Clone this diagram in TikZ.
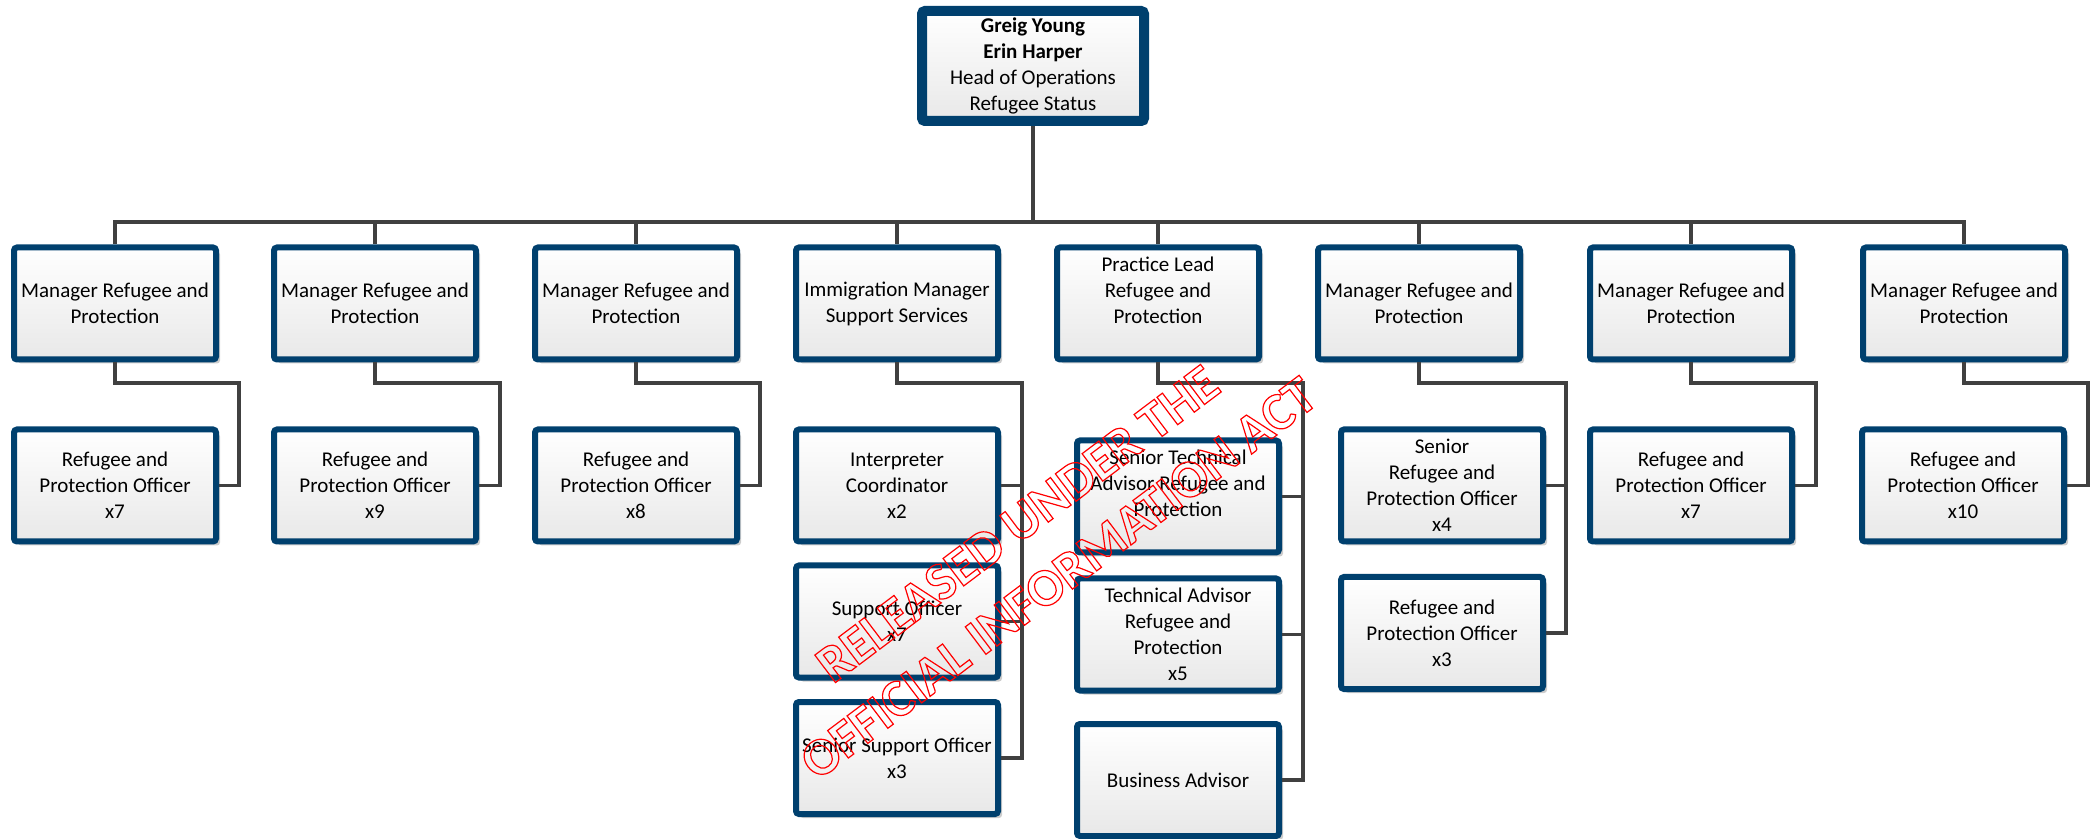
\documentclass[tikz,border=0pt]{standalone}
\usepackage{fontspec}
\setmainfont{Carlito}
\usetikzlibrary{shadows}
\definecolor{boxblue}{RGB}{0,64,110}
\definecolor{linegray}{RGB}{64,64,64}
\newcommand{\outlined}[1]{\special{pdf:literal direct 1 Tr 0.6 w}#1\special{pdf:literal direct 0 Tr}}

\begin{document}
\begin{tikzpicture} [x = 0.5pt, y = -0.5pt,
	box/.style = {draw = boxblue, line width = 3pt, rounded corners = 1.5pt,
		top color = white, bottom color = black!9,
		drop shadow = {shadow xshift = 2pt, shadow yshift = -2pt, opacity = 0.2, fill = black},
		minimum width = 101pt, minimum height = 56pt, inner sep = 0pt,
		align = center, font = \fontsize{10.5}{13}\selectfont},
	bigbox/.style = {box, line width = 5pt, minimum width = 111pt, minimum height = 55pt},
	link/.style = {draw = linegray, line width = 1.6pt},
	stamp/.style = {text = red, align = center, font = \fontsize{26.5}{34}\selectfont\bfseries}]
	\useasboundingbox (0,0) rectangle (2095,839);
	% top
	\node [bigbox] (head) at (1033,66) {\textbf{Greig Young}\\\textbf{Erin Harper}\\Head of Operations\\Refugee Status};
	% managers
	\node [box] (mgrA) at (115,303.5) {Manager Refugee and\\Protection};
	\node [box] (mgrB) at (375,303.5) {Manager Refugee and\\Protection};
	\node [box] (mgrC) at (636,303.5) {Manager Refugee and\\Protection};
	\node [box] (mgrD) at (897,303.5) {Immigration Manager\\Support Services};
	\node [box] (mgrE) at (1158,303.5) {Practice Lead\\Refugee and\\Protection\\\mbox{}};
	\node [box] (mgrF) at (1419,303.5) {Manager Refugee and\\Protection};
	\node [box] (mgrG) at (1691,303.5) {Manager Refugee and\\Protection};
	\node [box] (mgrH) at (1964,303.5) {Manager Refugee and\\Protection};
	% staff
	\node [box] (offA) at (115,485.5) {Refugee and\\Protection Officer\\x7};
	\node [box] (offB) at (375,485.5) {Refugee and\\Protection Officer\\x9};
	\node [box] (offC) at (636,485.5) {Refugee and\\Protection Officer\\x8};
	\node [box] (interp) at (897,485.5) {Interpreter\\Coordinator\\x2};
	\node [box] (support) at (897,621.5) {Support Officer\\x7};
	\node [box] (srsupport) at (897,758) {Senior Support Officer\\x3};
	\node [box] (srtech) at (1178,496.5) {Senior Technical\\Advisor Refugee and\\Protection\\\mbox{}};
	\node [box] (tech) at (1178,634.5) {Technical Advisor\\Refugee and\\Protection\\x5};
	\node [box] (business) at (1178,780) {Business Advisor};
	\node [box] (srofficer) at (1442,485.5) {Senior\\Refugee and\\Protection Officer\\x4};
	\node [box] (offF) at (1442,633) {Refugee and\\Protection Officer\\x3};
	\node [box] (offG) at (1691,485.5) {Refugee and\\Protection Officer\\x7};
	\node [box] (offH) at (1963,485.5) {Refugee and\\Protection Officer\\x10};
	% bus and elbows
	\coordinate (bus) at (1033,222);
	\coordinate (kA) at (239,383);
	\coordinate (kB) at (500,383);
	\coordinate (kC) at (760,383);
	\coordinate (kD) at (1022,383);
	\coordinate (kE) at (1303,383);
	\coordinate (kF) at (1566,383);
	\coordinate (kG) at (1816,383);
	\coordinate (kH) at (2088,383);
	\draw [link] (head.south) -- (bus);
	\draw [link] (bus) -| (mgrA.north);
	\draw [link] (bus) -| (mgrB.north);
	\draw [link] (bus) -| (mgrC.north);
	\draw [link] (bus) -| (mgrD.north);
	\draw [link] (bus) -| (mgrE.north);
	\draw [link] (bus) -| (mgrF.north);
	\draw [link] (bus) -| (mgrG.north);
	\draw [link] (bus) -| (mgrH.north);
	\draw [link] (mgrA.south) |- (kA) |- (offA.east);
	\draw [link] (mgrB.south) |- (kB) |- (offB.east);
	\draw [link] (mgrC.south) |- (kC) |- (offC.east);
	\draw [link] (mgrD.south) |- (kD) |- (srsupport.east);
	\draw [link] (kD) |- (interp.east);
	\draw [link] (kD) |- (support.east);
	\draw [link] (mgrE.south) |- (kE) |- (business.east);
	\draw [link] (kE) |- (srtech.east);
	\draw [link] (kE) |- (tech.east);
	\draw [link] (mgrF.south) |- (kF) |- (offF.east);
	\draw [link] (kF) |- (srofficer.east);
	\draw [link] (mgrG.south) |- (kG) |- (offG.east);
	\draw [link] (mgrH.south) |- (kH) |- (offH.east);
	% watermark
	\node [stamp, rotate = 37] (release) at (1038,551) {\outlined{RELEASED UNDER THE\\OFFICIAL INFORMATION ACT}};
\end{tikzpicture}
\end{document}
